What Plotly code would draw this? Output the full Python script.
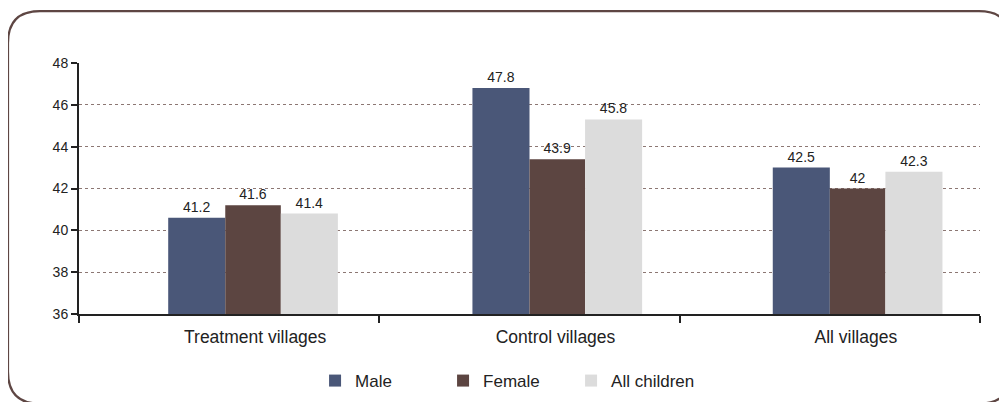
import plotly.graph_objects as go

# chart data
categories = ["Treatment villages", "Control villages", "All villages"]
series_names = ["Male", "Female", "All children"]
# bar heights as drawn, and the value labels printed on top of them
male_height = [40.6, 46.8, 43.0]
female_height = [41.2, 43.4, 42.0]
all_height = [40.8, 45.3, 42.8]
male_label = ["41.2", "47.8", "42.5"]
female_label = ["41.6", "43.9", "42"]
all_label = ["41.4", "45.8", "42.3"]
y_ticks = [36, 38, 40, 42, 44, 46, 48]

colors = ["#4a5778", "#5c4541", "#dcdcdc"]
W, H = 1007, 402
L, R, T, B = 71, 35, 55, 95
PAGE = 8  # body margin of the html page

fig = go.Figure()
heights = [male_height, female_height, all_height]
labels = [male_label, female_label, all_label]
shift = [-0.013, 0.0, 0.0]  # first group sits a little further left
offsets = [-0.19, 0.0, 0.185]
widths = [0.19, 0.185, 0.19]
for name, h, lab, col, off, wd in zip(series_names, heights, labels, colors, offsets, widths):
    fig.add_trace(go.Bar(x=categories, y=h, name=name, text=lab, marker_color=col,
                         marker_line_width=0, offset=[off + s for s in shift], width=wd,
                         textposition="outside", cliponaxis=False,
                         textfont=dict(family="Liberation Sans, Arial", size=14, color="#222")))

# rounded frame around the chart, given in screen pixels and turned into paper units
def px(x, y):
    x, y = x - PAGE, y - PAGE
    return "%.5f,%.5f" % ((x - L) / (W - L - R), (H - B - y) / (H - T - B))

x0, y0, x1, y1, r = 8, 11, 1011, 405, 32
frame = ("M" + px(x0 + r, y0) + " L" + px(x1 - r, y0) + " Q" + px(x1, y0) + " " + px(x1, y0 + r)
         + " L" + px(x1, y1 - r) + " Q" + px(x1, y1) + " " + px(x1 - r, y1)
         + " L" + px(x0 + r, y1) + " Q" + px(x0, y1) + " " + px(x0, y1 - r)
         + " L" + px(x0, y0 + r) + " Q" + px(x0, y0) + " " + px(x0 + r, y0) + " Z")
fig.add_shape(type="path", path=frame, xref="paper", yref="paper",
              line=dict(color="#5e4643", width=2.2), layer="below")

fig.update_layout(
    width=W, height=H, barmode="overlay",
    margin=dict(l=L, r=R, t=T, b=B),
    plot_bgcolor="white", paper_bgcolor="white",
    font=dict(family="Liberation Sans Narrow, Liberation Sans, Arial", color="#222"),
    showlegend=True,
    legend=dict(orientation="h", x=0.262, y=-0.262, xanchor="left", yanchor="middle",
                font=dict(family="Liberation Sans Narrow, Liberation Sans, Arial", size=17, color="#222"),
                entrywidth=83, traceorder="normal"),
)
fig.update_xaxes(range=[-0.5, 2.5], showline=True, linecolor="#222", linewidth=2,
                 ticks="outside", tickson="boundaries", ticklen=7, tickcolor="#222", tickwidth=2,
                 ticklabelshift=26, ticklabelstandoff=6, tickfont=dict(size=17.5), showgrid=False)
fig.update_yaxes(range=[36, 48], tickvals=y_ticks, showline=True, linecolor="#222", linewidth=2,
                 ticks="outside", ticklen=6, tickcolor="#222", tickwidth=2,
                 tickfont=dict(family="Liberation Sans, Arial", size=14, color="#222"),
                 showgrid=True, gridcolor="#8c7773", griddash="dot", gridwidth=1, zeroline=False)

fig.write_html("out.html")
